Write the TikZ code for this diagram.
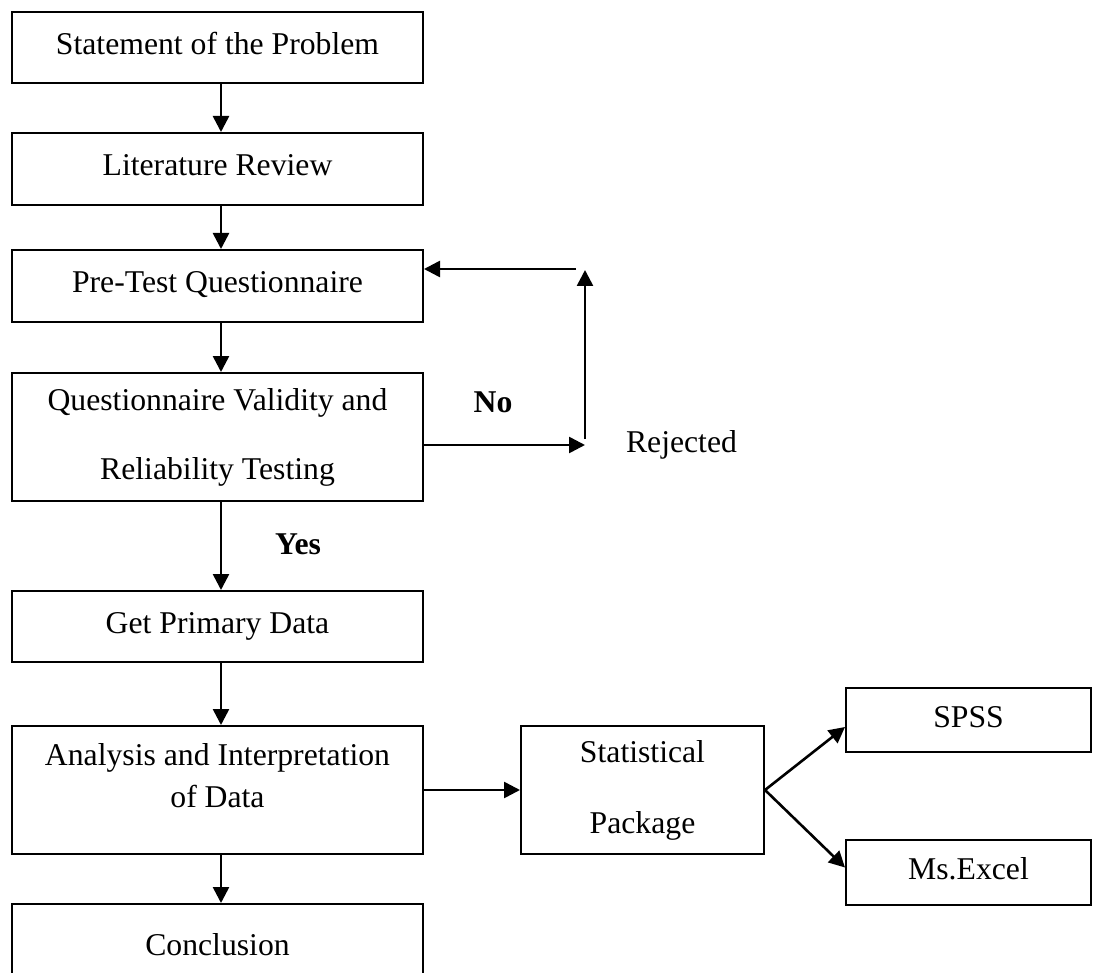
\documentclass[tikz,border=0pt]{standalone}
\usepackage{fontspec}
\setmainfont{Liberation Serif}
\usetikzlibrary{arrows.meta}
\begin{document}
\begin{tikzpicture}[x=1pt,y=-1pt,
  box/.style={draw=black,line width=2pt,inner sep=0pt,font=\fontsize{31.7}{38}\selectfont,text height=20pt,text depth=6pt},
  mbox/.style={draw=black,line width=2pt,inner sep=0pt,align=center},
  txt/.style={inner sep=0pt,font=\fontsize{31.7}{38}\selectfont},
  arr/.style={line width=2.6pt,-{Triangle[length=16pt,width=16pt]}}]
\clip (0,0) rectangle (1097,973);
\useasboundingbox (0,0) rectangle (1097,973);
\fill[white] (0,0) rectangle (1097,973);

\node[box,minimum width=411,minimum height=71] (stmt) at (217.5,47.5) {Statement of the Problem};
\node[box,minimum width=411,minimum height=72] (lit) at (217.5,169) {Literature Review};
\node[box,minimum width=411,minimum height=72] (pre) at (217.5,286) {Pre-Test Questionnaire};
\node[mbox,font=\fontsize{31.7}{69}\selectfont,minimum width=411,minimum height=128] (val) at (217.5,437) {Questionnaire Validity and\\Reliability Testing};
\node[box,minimum width=411,minimum height=71] (get) at (217.5,626.5) {Get Primary Data};
\node[draw=black,line width=2pt,inner sep=0pt,minimum width=411,minimum height=128,
  label={[txt,align=center,font=\fontsize{31.7}{42}\selectfont,yshift=14]center:{Analysis and Interpretation\\of Data}}] (ana) at (217.5,790) {};
\node[box,minimum width=411,minimum height=88] (con) at (217.5,948) {Conclusion};
\node[mbox,font=\fontsize{31.7}{71}\selectfont,minimum width=243,minimum height=128] (stat) at (642.5,790) {Statistical\\Package};
\node[box,minimum width=245,minimum height=64] (spss) at (968.5,720) {SPSS};
\node[box,minimum width=245,minimum height=65] (excel) at (968.5,872.5) {Ms.Excel};

\node[txt,font=\bfseries\fontsize{31.7}{38}\selectfont] (yes) at (298,544) {Yes};
\node[txt,font=\bfseries\fontsize{31.7}{38}\selectfont] (no) at (493,402) {No};
\node[txt] (rej) at (681.5,445) {Rejected};

\coordinate (rj) at (585,445);
\coordinate (rb) at (585,439);
\coordinate (rt) at (585,270);
\coordinate (lt) at (576,269);

\draw[arr] ([xshift=3.5]stmt.south) -- ([xshift=3.5]lit.north);
\draw[arr] ([xshift=3.5]lit.south) -- ([xshift=3.5]pre.north);
\draw[arr] ([xshift=3.5]pre.south) -- ([xshift=3.5]val.north);
\draw[arr] ([xshift=3.5]val.south) -- ([xshift=3.5]get.north);
\draw[arr] ([xshift=3.5]get.south) -- ([xshift=3.5]ana.north);
\draw[arr] ([xshift=3.5]ana.south) -- ([xshift=3.5]con.north);

\draw[arr] ([yshift=-8]val.east) -- (rj);
\draw[arr] (rb) -- (rt);
\draw[arr] (lt) -- (lt -| pre.east);

\draw[arr] (ana.east) -- (stat.west);
\draw[arr] (stat.east) -- ([yshift=-7]spss.west);
\draw[arr] (stat.east) -- ([yshift=5]excel.west);
\end{tikzpicture}
\end{document}
